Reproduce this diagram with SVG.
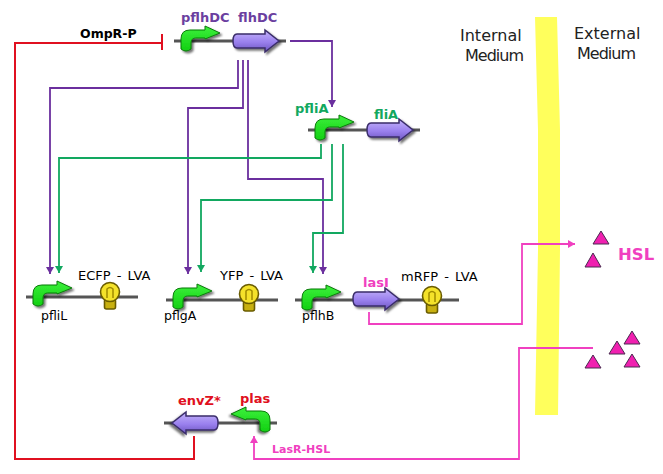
<svg xmlns="http://www.w3.org/2000/svg" width="663" height="474" viewBox="0 0 663 474">
<style>
text{font-family:"DejaVu Sans",Verdana,sans-serif;font-size:13px}
.b{font-weight:bold}
.m{font-size:16px;fill:#222}
.dna{stroke:#555;stroke-width:3;fill:none}
.c{fill:none;stroke-width:1.8}
.pu{stroke:#6b2f9e}.gr{stroke:#12a860}.pk{stroke:#f040c0}.rd{stroke:#e01020;stroke-width:2}
.tri{fill:#f020b0;stroke:#4a2a50;stroke-width:1}
.gene{fill:url(#gg);stroke:#3a2d6a;stroke-width:1.5;filter:url(#sh)}
.prom{fill:url(#pg);stroke:#0b7a0b;stroke-width:1;filter:url(#sh)}
.bulbo{fill:#f4e22a;stroke:#6a5c00;stroke-width:1.600}
</style>
<defs>
<linearGradient id="gg" x1="0" y1="0" x2="0" y2="1"><stop offset="0" stop-color="#c4b4fa"/><stop offset="0.55" stop-color="#9a80ee"/><stop offset="1" stop-color="#6c55c0"/></linearGradient>
<linearGradient id="pg" x1="0" y1="0" x2="0" y2="1"><stop offset="0" stop-color="#3cf03c"/><stop offset="1" stop-color="#12d012"/></linearGradient>
<filter id="sh" x="-20%" y="-20%" width="150%" height="160%"><feDropShadow dx="2" dy="2" stdDeviation="1.3" flood-color="#000" flood-opacity="0.55"/></filter>
<marker id="ap" markerUnits="userSpaceOnUse" markerWidth="9" markerHeight="9" refX="7" refY="4" orient="auto"><path d="M0 0L7 4L0 8z" fill="#6b2f9e"/></marker>
<marker id="ag" markerUnits="userSpaceOnUse" markerWidth="9" markerHeight="9" refX="7" refY="4" orient="auto"><path d="M0 0L7 4L0 8z" fill="#12a860"/></marker>
<marker id="ak" markerUnits="userSpaceOnUse" markerWidth="9" markerHeight="9" refX="7" refY="4" orient="auto"><path d="M0 0L7 4L0 8z" fill="#f040c0"/></marker>
<symbol id="promR" overflow="visible"><path class="prom" d="M0 16V6Q0 -3 9 -3H24V-7L39 0L24 6V5H15Q10 5 10 10V16Q5 20 0 16Z"/></symbol>
<symbol id="geneR" overflow="visible"><path class="gene" d="M3 -7H31V-11L45 0L31 11V7H3Q-1 7 -1 0Q-1 -7 3 -7Z"/></symbol>
<symbol id="bulb" overflow="visible"><rect class="bulbo" x="-5.500" y="7" width="11" height="10" rx="2" style="fill:#c8b010"/><circle class="bulbo" cx="0" cy="0" r="9.500"/><path d="M-3 6V-3Q0 -6 3 -3V6" fill="none" stroke="#a08c00" stroke-width="1.500"/></symbol>
</defs>
<path id="membrane" fill="#ffff5c" d="M535 17H557L560 130V250L558 415H535L538 250V130Z"/>
<g id="connectors">
<path class="c rd" d="M162 43H15V459H194V436"/><path class="c rd" d="M162 34V50"/>
<path class="c pu" d="M238 60V88H50V274" marker-end="url(#ap)"/>
<path class="c pu" d="M243 60V108H188V274" marker-end="url(#ap)"/>
<path class="c pu" d="M248 60V179H323V274" marker-end="url(#ap)"/>
<path class="c pu" d="M290 41H332V107" marker-end="url(#ap)"/>
<path class="c gr" d="M321 144V158H59V273" marker-end="url(#ag)"/>
<path class="c gr" d="M332 144V200H201V272" marker-end="url(#ag)"/>
<path class="c gr" d="M343 144V233H313V273" marker-end="url(#ag)"/>
<path class="c pk" d="M369 312V324H522V244H575" marker-end="url(#ak)"/>
<path class="c pk" d="M593 348H519V459H254V436" marker-end="url(#ak)"/>
</g>
<g id="flhDC"><path class="dna" d="M174 41H286"/><use href="#promR" x="181" y="33"/><use href="#geneR" x="234" y="41"/><text class="b" x="181" y="22" fill="#6b3fa0">pflhDC</text><text class="b" x="238" y="22" fill="#6b3fa0">flhDC</text></g>
<g id="ompr"><text class="b" x="80" y="38" fill="#000" style="font-size:12.500px">OmpR-P</text></g>
<g id="fliA"><path class="dna" d="M308 130H420"/><use href="#promR" x="315" y="122"/><use href="#geneR" x="368" y="130"/><text class="b" x="295" y="113" fill="#12a860">pfliA</text><text class="b" x="374" y="119" fill="#12a860">fliA</text></g>
<g id="pfliL"><path class="dna" d="M26 297H138"/><use href="#promR" x="33" y="288"/><use href="#bulb" x="110" y="292"/><text x="78" y="280" fill="#000" word-spacing="2">ECFP - LVA</text><text x="41" y="320" fill="#000" style="font-size:12.500px">pfliL</text></g>
<g id="pflgA"><path class="dna" d="M166 300H278"/><use href="#promR" x="173" y="291"/><use href="#bulb" x="249" y="294"/><text x="220" y="280" fill="#000" word-spacing="2">YFP - LVA</text><text x="164" y="320" fill="#000" style="font-size:12.500px">pflgA</text></g>
<g id="pflhB"><path class="dna" d="M295 300H459"/><use href="#promR" x="302" y="292"/><use href="#geneR" x="354" y="299"/><use href="#bulb" x="432" y="296"/><text class="b" x="363" y="287" fill="#f040c0">lasI</text><text x="401" y="281" fill="#000" word-spacing="2">mRFP - LVA</text><text x="302" y="320" fill="#000" style="font-size:12.500px">pflhB</text></g>
<g id="envZ"><path class="dna" d="M164 423H277"/><use href="#geneR" transform="translate(217 423) scale(-1 1)"/><use href="#promR" transform="translate(270 414) scale(-1 1)"/><text class="b" x="178" y="405" fill="#e01020">envZ*</text><text class="b" x="240" y="403" fill="#e01020">plas</text></g>
<g id="labels"><text class="b" x="272" y="453" fill="#f040c0" style="font-size:11px">LasR-HSL</text>
<text class="m" x="460" y="41">Internal</text><text class="m" x="465" y="61" textLength="59">Medium</text>
<text class="m" x="574" y="39">External</text><text class="m" x="577" y="59" textLength="59">Medium</text>
<text class="b" x="618" y="260" fill="#f040c0" style="font-size:16.500px">HSL</text></g>
<g id="hsl"><path class="tri" d="M601 231L609 244H593z"/><path class="tri" d="M593 253L601 267H585z"/><path class="tri" d="M632 331L640 344H624z"/><path class="tri" d="M617 341L625 354H609z"/><path class="tri" d="M593 355L601 368H585z"/><path class="tri" d="M632 354L640 367H624z"/></g>
</svg>
